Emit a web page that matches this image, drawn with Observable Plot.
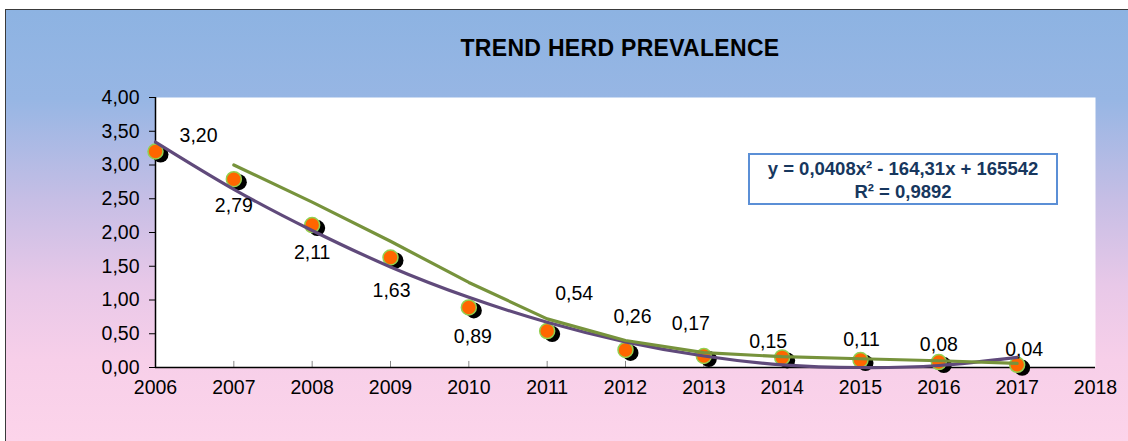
<!DOCTYPE html>
<html>
<head>
<meta charset="utf-8">
<script src="https://cdn.jsdelivr.net/npm/d3@7"></script>
<script src="https://cdn.jsdelivr.net/npm/@observablehq/plot@0.6"></script>
<style>
  html, body { margin: 0; padding: 0; background: #fff; }
  #wrap { position: relative; width: 1128px; height: 441px; overflow: hidden; font-family: "Liberation Sans", Arial, sans-serif; }
  #bg { position: absolute; left: 5px; top: 9px; width: 1140px; height: 450px; border: 1.5px solid #3a3a3a;
        background: linear-gradient(to bottom, #8db3e2 0px, #97b6e4 90px, #c6bee5 190px, #e8c8e8 275px, #f7cfe9 350px, #fcd4ea 432px); }
  #chart { position: absolute; left: 0; top: 0; }
  #title { position: absolute; left: 0; width: 1240px; top: 35px; text-align: center; font-weight: bold; font-size: 23px; color: #000; letter-spacing: 0.3px; }
  #eq { position: absolute; left: 748px; top: 153px; width: 306px; height: 46px; background: #fff; border: 2px solid #5b8fd6;
        color: #17375e; font-weight: bold; font-size: 18.5px; line-height: 23px; text-align: center; padding-top: 2px; }
</style>
</head>
<body>
<div id="wrap">
  <div id="bg"></div>
  <div id="chart"></div>
  <div id="title">TREND HERD PREVALENCE</div>
  <div id="eq">y = 0,0408x² - 164,31x + 165542<br>R² = 0,9892</div>
</div>
<script>
// ---- data ----
const years = [2006, 2007, 2008, 2009, 2010, 2011, 2012, 2013, 2014, 2015, 2016, 2017];
const prevalence = [3.20, 2.79, 2.11, 1.63, 0.89, 0.54, 0.26, 0.17, 0.15, 0.11, 0.08, 0.04];
// polynomial trendline
const trendPoly = [3.34, 2.64, 2.03, 1.49, 1.04, 0.67, 0.38, 0.17, 0.04, 0.00, 0.03, 0.15];
// moving-average trendline
const movAvgYears = [2007, 2008, 2009, 2010, 2011, 2012, 2013, 2014, 2015, 2016, 2017];
const movAvg = [3.00, 2.45, 1.87, 1.26, 0.72, 0.40, 0.22, 0.16, 0.13, 0.10, 0.06];
const xTicks = [2006, 2007, 2008, 2009, 2010, 2011, 2012, 2013, 2014, 2015, 2016, 2017, 2018];
const yTicks = [0, 0.5, 1, 1.5, 2, 2.5, 3, 3.5, 4];
const yTickLabels = ["0,00", "0,50", "1,00", "1,50", "2,00", "2,50", "3,00", "3,50", "4,00"];
const valueLabels = ["3,20", "2,79", "2,11", "1,63", "0,89", "0,54", "0,26", "0,17", "0,15", "0,11", "0,08", "0,04"];

// ---- label placement (style) ----
const labelOffsets = [
  [43, -16], [0, 27], [0, 28], [1, 33], [4, 29], [27, -37],
  [7, -33], [-13, -32], [-14, -16], [1, -20], [0, -17], [7, -15]
];

const points = years.map((yr, i) => ({year: yr, value: prevalence[i], label: valueLabels[i], i}));
const trend = years.map((yr, i) => ({year: yr, value: trendPoly[i]}));
const mavg = movAvgYears.map((yr, i) => ({year: yr, value: movAvg[i]}));

const labelMarks = points.map(p => Plot.text([p], {
  x: "year", y: "value", text: "label",
  dx: labelOffsets[p.i][0], dy: labelOffsets[p.i][1],
  fontSize: 19.5, fill: "#000"
}));

const chart = Plot.plot({
  width: 1128,
  height: 441,
  marginLeft: 155,
  marginRight: 33,
  marginTop: 97,
  marginBottom: 74,
  style: {background: "transparent", fontFamily: "'Liberation Sans', Arial, sans-serif", color: "#000"},
  x: {domain: [2006, 2018]},
  y: {domain: [0, 4]},
  marks: [
    Plot.frame({fill: "white", stroke: null}),
    Plot.axisX({ticks: xTicks, tickSize: 0, tickPadding: 13, tickFormat: d => String(d), fontSize: 19.5, label: null}),
    Plot.axisY({ticks: yTicks, tickSize: 6, tickPadding: 10, tickFormat: d => yTickLabels[yTicks.indexOf(d)], fontSize: 19.5, label: null, stroke: "#000"}),
    Plot.ruleX(xTicks.slice(1, 12), {y1: 0, y2: 0.09, stroke: "#888", strokeWidth: 1}),
    Plot.ruleY([0], {stroke: "#000", strokeWidth: 1.5}),
    Plot.ruleX([2006], {stroke: "#000", strokeWidth: 1.5}),
    Plot.dot(points, {x: "year", y: "value", r: 8, fill: "#000", dx: 5, dy: 3}),
    Plot.dot(points, {x: "year", y: "value", r: 7.5, fill: "#ff6600", stroke: "#92d050", strokeWidth: 1.5}),
    Plot.line(trend, {x: "year", y: "value", stroke: "#604a7b", strokeWidth: 3.2, curve: "natural"}),
    Plot.line(mavg, {x: "year", y: "value", stroke: "#77933c", strokeWidth: 3.2}),
    ...labelMarks
  ]
});
document.getElementById("chart").appendChild(chart);
</script>
</body>
</html>
